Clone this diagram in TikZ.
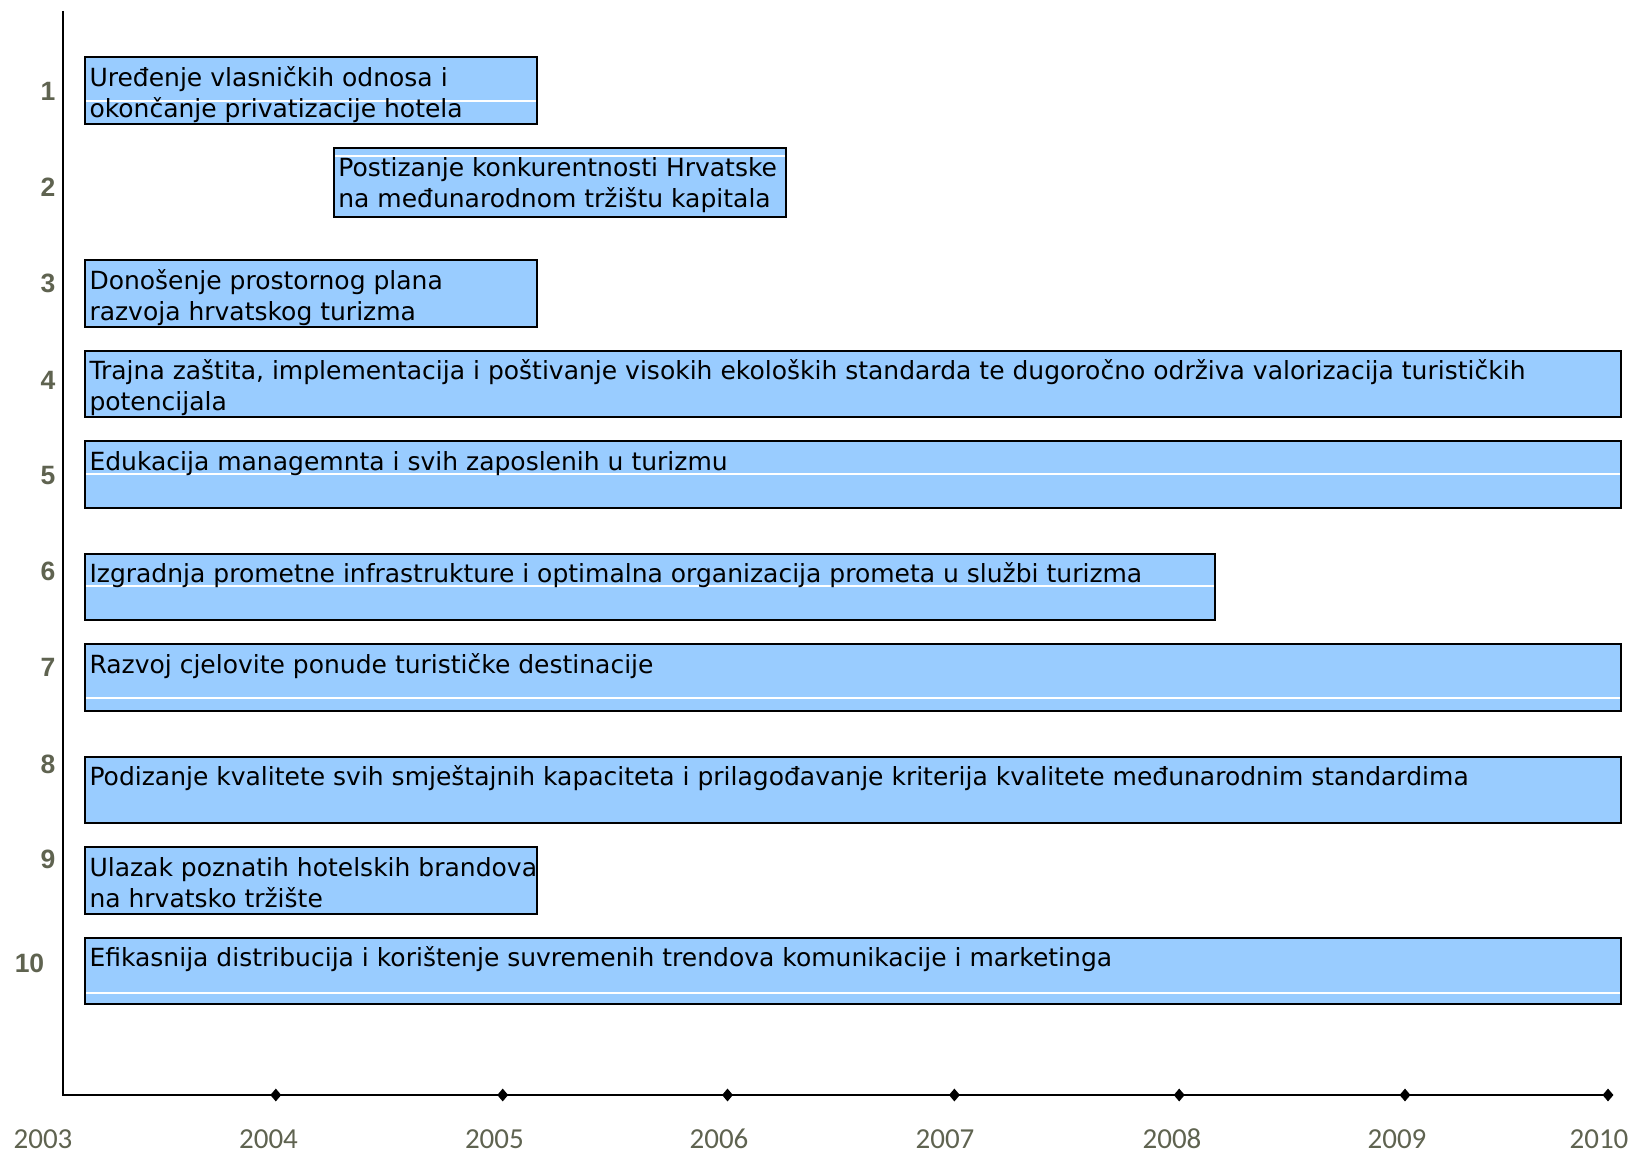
\documentclass[tikz,border=0pt]{standalone}
\usepackage{fontspec}
\setmainfont{DejaVu Sans}
\newfontfamily\numfont{Liberation Sans}
\newfontfamily\yearfont{Carlito}
\usetikzlibrary{shapes.geometric}
\definecolor{barblue}{RGB}{153,204,255}
\definecolor{labgray}{RGB}{95,99,80}
\tikzset{
  barfill/.style={fill=barblue},
  barline/.style={draw=black, line width=2pt},
  whiteln/.style={draw=white, line width=1.2pt},
  bartext/.style={anchor=base west, inner sep=0pt, font=\fontsize{25}{25}\selectfont},
  rowlab/.style={inner sep=0pt, text=labgray, font=\numfont\bfseries\fontsize{26.5}{26.5}\selectfont},
  yearlab/.style={inner sep=0pt, text=labgray, font=\yearfont\fontsize{29}{29}\selectfont},
  axisln/.style={draw=black, line width=2pt},
  tickmark/.style={diamond, fill=black, inner sep=0pt, minimum width=11pt, minimum height=13pt}
}
% #1 name, #2 x1, #3 y1, #4 x2, #5 y2, #6 line 1, #7 line 2, #8 white line y (or empty)
\newcommand\gbar[8]{%
  \begin{scope}
    \clip (#2,#3) rectangle (#4,#5);
    \fill[barfill] (#2,#3) rectangle (#4,#5);
    \if\relax\detokenize{#8}\relax\else
    \draw[whiteln] (#2,#8) -- (#4,#8);
    \fi
    \node[bartext] (#1a) at ({#2+4},{#3+29}) {#6};
    \if\relax\detokenize{#7}\relax\else
    \node[bartext] (#1b) at ({#2+4},{#3+60}) {#7};
    \fi
  \end{scope}
  \draw[barline] (#2,#3) rectangle (#4,#5);
}
\begin{document}
\begin{tikzpicture}[x=1pt,y=-1pt]
\useasboundingbox (0,0) rectangle (1632,1155);
% axes
\coordinate (top) at (63,11);
\coordinate (origin) at (63,1095);
\coordinate (axend) at (1608,1095);
\draw[axisln] (top) -- (origin) -- (axend);
% ticks
\node[tickmark] (k4) at (275.8,1095) {};
\node[tickmark] (k5) at (502.7,1095) {};
\node[tickmark] (k6) at (727.5,1095) {};
\node[tickmark] (k7) at (954.4,1095) {};
\node[tickmark] (k8) at (1179.2,1095) {};
\node[tickmark] (k9) at (1405,1095) {};
\node[tickmark] (k10) at (1608,1095) {};
% years
\node[yearlab] (y3) at (43,1139) {2003};
\node[yearlab] (y4) at (268.5,1139) {2004};
\node[yearlab] (y5) at (494.4,1139) {2005};
\node[yearlab] (y6) at (719,1139) {2006};
\node[yearlab] (y7) at (945,1139) {2007};
\node[yearlab] (y8) at (1172,1139) {2008};
\node[yearlab] (y9) at (1397,1139) {2009};
\node[yearlab] (y10) at (1599,1139) {2010};
% row labels
\node[rowlab] (r1) at (48,91.6) {1};
\node[rowlab] (r2) at (48,187.3) {2};
\node[rowlab] (r3) at (48,283.1) {3};
\node[rowlab] (r4) at (48,379.9) {4};
\node[rowlab] (r5) at (48,475.6) {5};
\node[rowlab] (r6) at (48,571.4) {6};
\node[rowlab] (r7) at (48,667.1) {7};
\node[rowlab] (r8) at (48,764) {8};
\node[rowlab] (r9) at (48,859.7) {9};
\node[rowlab] (r10) at (29.5,963.8) {10};
% bars
\gbar{b1}{85.3}{57.2}{537}{123.9}{Uređenje vlasničkih odnosa i}{okončanje privatizacije hotela}{101}
\gbar{b2}{334.1}{147.8}{785.8}{217.5}{Postizanje konkurentnosti Hrvatske}{na međunarodnom tržištu kapitala}{156}
\gbar{b3}{85.3}{260.2}{537}{326.8}{Donošenje prostornog plana}{razvoja hrvatskog turizma}{}
\gbar{b4}{85.3}{350.7}{1620.5}{417.4}{Trajna zaštita, implementacija i poštivanje visokih ekoloških standarda te dugoročno održiva valorizacija turističkih}{potencijala}{}
\gbar{b5}{85.3}{441.3}{1620.5}{507.9}{Edukacija managemnta i svih zaposlenih u turizmu}{}{474}
\gbar{b6}{85.3}{553.7}{1214.6}{620.3}{Izgradnja prometne infrastrukture i optimalna organizacija prometa u službi turizma}{}{586}
\gbar{b7}{85.3}{644.3}{1620.5}{710.9}{Razvoj cjelovite ponude turističke destinacije}{}{698}
\gbar{b8}{85.3}{756.7}{1620.5}{823.3}{Podizanje kvalitete svih smještajnih kapaciteta i prilagođavanje kriterija kvalitete međunarodnim standardima}{}{}
\gbar{b9}{85.3}{847.2}{537}{913.8}{Ulazak poznatih hotelskih brandova}{na hrvatsko tržište}{}
\gbar{b10}{85.3}{937.8}{1620.5}{1004.4}{Efikasnija distribucija i korištenje suvremenih trendova komunikacije i marketinga}{}{993}
\end{tikzpicture}
\end{document}
